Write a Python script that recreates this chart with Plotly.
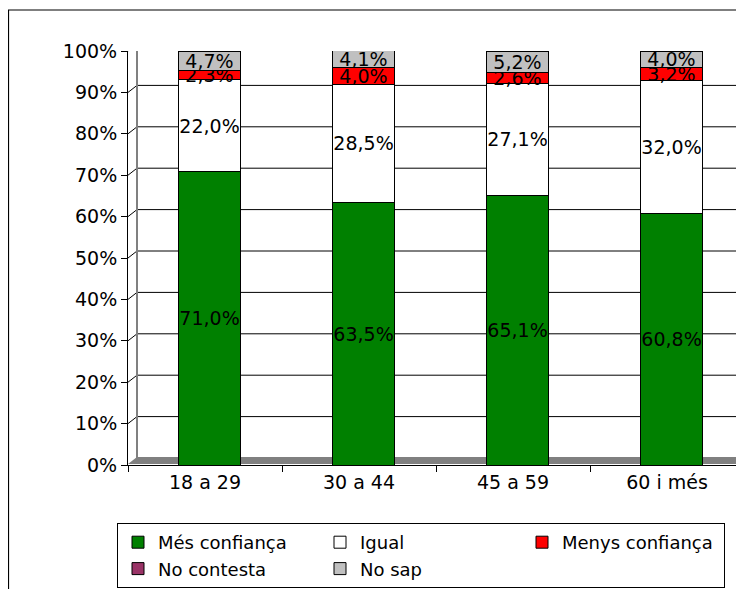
import plotly.graph_objects as go

# ---------------------------------------------------------------------------
# Data
# ---------------------------------------------------------------------------
groups = ['18 a 29', '30 a 44', '45 a 59', '60 i més']
mes_confianca = [71.0, 63.5, 65.1, 60.8]
igual = [22.0, 28.5, 27.1, 32.0]
menys_confianca = [2.3, 4.0, 2.6, 3.2]
no_contesta = [0.0, 0.0, 0.0, 0.0]
no_sap = [4.7, 4.1, 5.2, 4.0]
y_ticks = [0, 10, 20, 30, 40, 50, 60, 70, 80, 90, 100]
y_labels = [f'{v}%' for v in y_ticks]

# ---------------------------------------------------------------------------
# Geometry helpers (window px -> paper). The page body has an 8px margin,
# so the figure sits 8px right/down of the window corner.
# ---------------------------------------------------------------------------
OFF = 8
W, H = 744, 589
L, T, B = 128, 51, 465           # plot area left / top / bottom in window px
PW = W + OFF - L                 # plot area runs off the right of the picture
PH = B - T
CAT = 154                        # px per category


def px(x):
    return (x - L) / PW


def py(y):
    return (B - y) / PH


DEPTH_X, DEPTH_Y = 9, 7          # fake 3D depth of the back wall
dy = 100 * DEPTH_Y / PH          # same depth in data units
FONT = 'DejaVu Sans'

series = [
    ('Més confiança', mes_confianca, '#008000', True),
    ('Igual', igual, '#FFFFFF', True),
    ('Menys confiança', menys_confianca, '#FF0000', True),
    ('No contesta', no_contesta, '#993366', False),
    ('No sap', no_sap, '#C0C0C0', True),
]

fig = go.Figure()
for name, vals, color, labelled in series:
    fig.add_trace(go.Bar(
        x=groups, y=vals, name=name,
        width=0.4, offset=-0.2 + 4.5 / CAT,
        marker=dict(color=color, line=dict(color='black', width=1)),
        texttemplate='%{y:.1f}%' if labelled else '',
        textposition='inside', insidetextanchor='middle',
        textfont=dict(family=FONT, size=19, color='black'),
        textangle=0,
    ))

shapes = []
# back wall gridlines (incl. diagonal across the side wall)
for v in y_ticks[1:]:
    shapes.append(dict(type='line', xref='paper', yref='y',
                       x0=0, y0=v, x1=px(L + DEPTH_X), y1=v + dy,
                       line=dict(color='black', width=1), layer='below'))
    shapes.append(dict(type='line', xref='paper', yref='y',
                       x0=px(L + DEPTH_X), y0=v + dy, x1=1, y1=v + dy,
                       line=dict(color='black' if v < 100 else '#808080',
                                 width=1 if v < 100 else 2), layer='below'))
# side wall back edge
shapes.append(dict(type='line', xref='paper', yref='y',
                   x0=px(L + DEPTH_X), y0=dy, x1=px(L + DEPTH_X), y1=100 + dy,
                   line=dict(color='#808080', width=2), layer='below'))
# floor
shapes.append(dict(type='path', xref='paper', yref='paper',
                   path=f'M 0 {py(B - 1)} L {px(L + DEPTH_X)} {py(B - DEPTH_Y - 1)} '
                        f'L 1.05 {py(B - DEPTH_Y - 1)} L 1.05 {py(B - 1)} Z',
                   fillcolor='#808080', line=dict(width=0), layer='below'))
# outer chart border (runs off the right and bottom of the picture)
shapes.append(dict(type='rect', xref='paper', yref='paper',
                   x0=px(8.5), y0=-2, x1=2, y1=py(10),
                   line=dict(color='black', width=1.2), fillcolor='rgba(0,0,0,0)'))

fig.update_layout(
    width=W, height=H,
    margin=dict(l=L - OFF, r=0, t=T - OFF, b=H - (B - OFF), pad=0),
    barmode='stack',
    plot_bgcolor='white', paper_bgcolor='white',
    font=dict(family=FONT, size=19, color='black'),
    separators=', ',
    uniformtext=dict(minsize=19, mode='show'),
    xaxis=dict(range=[-0.5, -0.5 + PW / CAT], showline=True, linecolor='black', linewidth=1,
               ticks='outside', tickson='boundaries', ticklen=6, tickcolor='black',
               showgrid=False, zeroline=False, tickfont=dict(size=19)),
    yaxis=dict(range=[0, 100], tickvals=y_ticks, ticktext=y_labels,
               showline=True, linecolor='black', linewidth=1,
               ticks='outside', ticklen=6, tickcolor='black',
               showgrid=False, zeroline=False, tickfont=dict(size=19)),
    legend=dict(orientation='h', x=px(117), y=py(523),
                xanchor='left', yanchor='top',
                bordercolor='black', borderwidth=1,
                traceorder='normal', entrywidth=157,
                font=dict(family=FONT, size=18)),
    shapes=shapes,
)

fig.write_html('out.html')
